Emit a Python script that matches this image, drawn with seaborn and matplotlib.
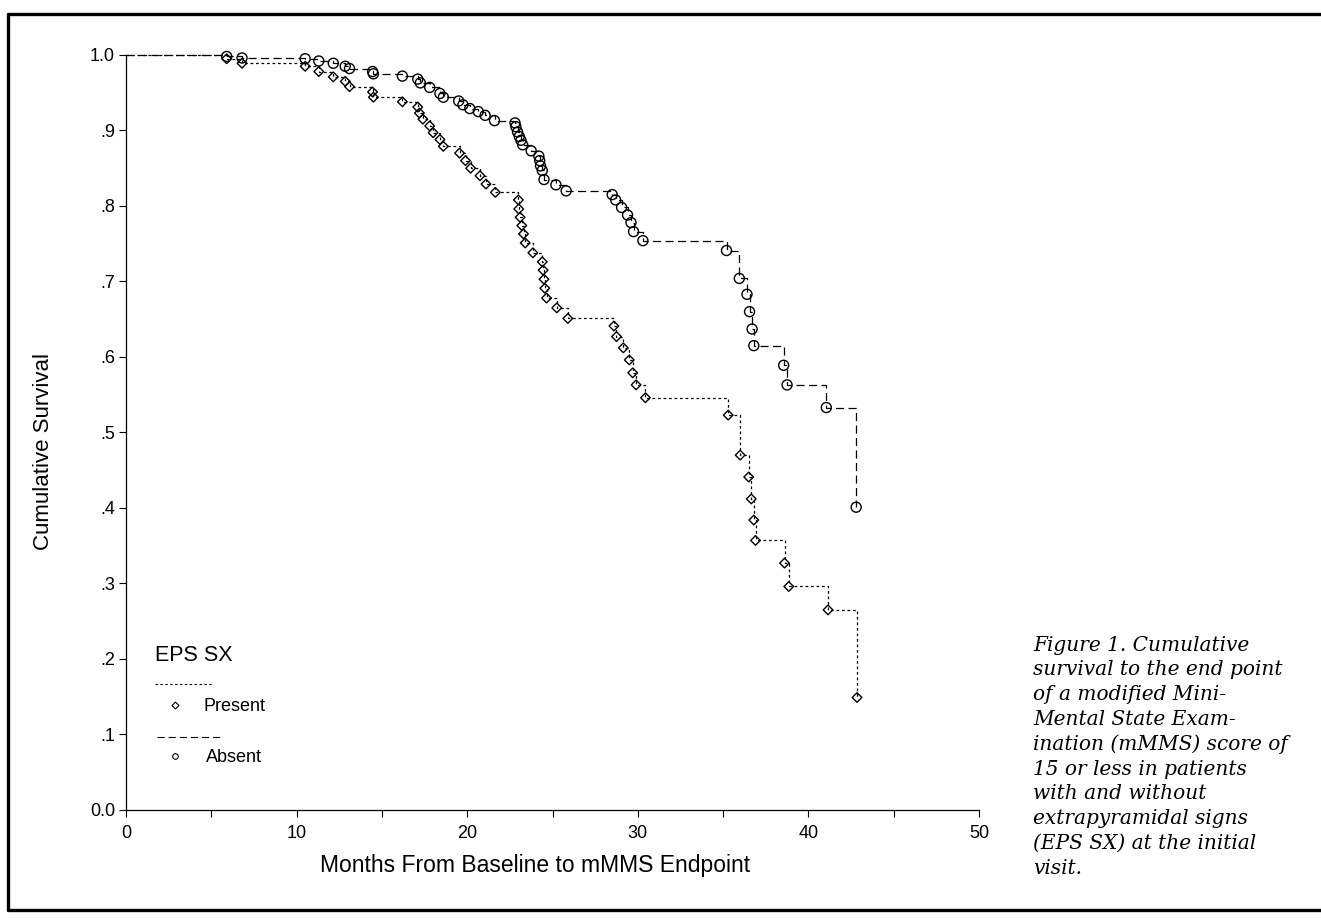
import matplotlib
matplotlib.use("Agg")
import matplotlib.pyplot as plt
from matplotlib.lines import Line2D
import numpy as np
import pandas as pd
import seaborn as sns

# ---------------- data ----------------
present_months = [5.9, 6.8, 10.5, 11.3, 12.15, 12.85, 13.1, 14.45, 14.5, 16.2,
                  17.1, 17.2, 17.4, 17.8, 18.0, 18.4, 18.6, 19.55, 19.9, 20.2,
                  20.75, 21.1, 21.65, 23.0, 23.02, 23.1, 23.2, 23.3, 23.4, 23.85,
                  24.4, 24.45, 24.5, 24.55, 24.65, 25.25, 25.9, 28.6, 28.75, 29.15,
                  29.5, 29.7, 29.9, 30.45, 35.3, 36.0, 36.5, 36.65, 36.8, 36.9,
                  38.6, 38.85, 41.15, 42.85]
present_surv = [0.995, 0.989, 0.985, 0.978, 0.971, 0.965, 0.958, 0.951, 0.944, 0.938,
                0.931, 0.923, 0.915, 0.906, 0.897, 0.888, 0.879, 0.870, 0.860, 0.850,
                0.840, 0.829, 0.818, 0.808, 0.796, 0.785, 0.774, 0.763, 0.751, 0.738,
                0.726, 0.715, 0.703, 0.691, 0.678, 0.665, 0.651, 0.641, 0.627, 0.612,
                0.596, 0.579, 0.563, 0.546, 0.523, 0.470, 0.441, 0.412, 0.384, 0.357,
                0.327, 0.296, 0.265, 0.149]

absent_months = [5.9, 6.8, 10.5, 11.3, 12.15, 12.85, 13.1, 14.45, 14.5, 16.2,
                 17.1, 17.25, 17.8, 18.4, 18.6, 19.5, 19.75, 20.15, 20.65, 21.05,
                 21.6, 22.8, 22.85, 22.95, 23.05, 23.15, 23.25, 23.75, 24.2, 24.25,
                 24.3, 24.4, 24.5, 25.2, 25.8, 28.5, 28.7, 29.05, 29.4, 29.6,
                 29.75, 30.3, 35.2, 35.95, 36.4, 36.55, 36.7, 36.8, 38.55, 38.75,
                 41.05, 42.8]
absent_surv = [0.998, 0.996, 0.995, 0.992, 0.989, 0.985, 0.982, 0.978, 0.975, 0.972,
               0.968, 0.963, 0.957, 0.949, 0.944, 0.939, 0.934, 0.929, 0.925, 0.920,
               0.913, 0.910, 0.905, 0.898, 0.892, 0.887, 0.881, 0.873, 0.866, 0.860,
               0.853, 0.847, 0.835, 0.828, 0.820, 0.815, 0.808, 0.798, 0.788, 0.778,
               0.766, 0.754, 0.741, 0.704, 0.683, 0.660, 0.637, 0.615, 0.589, 0.563,
               0.533, 0.401]

groups = ["Present", "Absent"]
y_ticks = [0.0, 0.1, 0.2, 0.3, 0.4, 0.5, 0.6, 0.7, 0.8, 0.9, 1.0]
y_tick_labels = ["0.0", ".1", ".2", ".3", ".4", ".5", ".6", ".7", ".8", ".9", "1.0"]
x_ticks = [0, 10, 20, 30, 40, 50]
x_minor = [5, 15, 25, 35, 45]
x_label = "Months From Baseline to mMMS Endpoint"
y_label = "Cumulative Survival"
legend_title = "EPS SX"
caption_lines = ["Figure 1. Cumulative",
                 "survival to the end point",
                 "of a modified Mini-",
                 "Mental State Exam-",
                 "ination (mMMS) score of",
                 "15 or less in patients",
                 "with and without",
                 "extrapyramidal signs",
                 "(EPS SX) at the initial",
                 "visit."]

# ---------------- tables ----------------
events = pd.concat([
    pd.DataFrame({"month": present_months, "surv": present_surv, "group": "Present"}),
    pd.DataFrame({"month": absent_months, "surv": absent_surv, "group": "Absent"}),
], ignore_index=True)
curves = pd.concat([
    pd.DataFrame({"month": [0.0] + present_months, "surv": [1.0] + present_surv, "group": "Present"}),
    pd.DataFrame({"month": [0.0] + absent_months, "surv": [1.0] + absent_surv, "group": "Absent"}),
], ignore_index=True)

# ---------------- styling ----------------
sns.set_theme(style="ticks")
plt.rcParams["font.family"] = ["Liberation Sans", "DejaVu Sans"]
plt.rcParams["text.color"] = "black"
plt.rcParams["axes.labelcolor"] = "black"

line_dashes = {"Present": (2.2, 2.2), "Absent": (6.5, 3.5)}
marker_kind = {"Present": "D", "Absent": "o"}
marker_size = {"Present": 24, "Absent": 52}

fig = plt.figure(figsize=(13.21, 9.22), dpi=100)
fig.patch.set_facecolor("white")
ax = fig.add_axes([0.0954, 0.1215, 0.6457, 0.8189])

for g in groups:
    sub = curves[curves["group"] == g]
    sns.lineplot(data=sub, x="month", y="surv", ax=ax, color="black",
                 estimator=None, sort=False, drawstyle="steps-post",
                 linewidth=0.9, dashes=False, legend=False, clip_on=False)
    ax.lines[-1].set_dashes(line_dashes[g])
for g in groups:
    sub = events[events["group"] == g]
    sns.scatterplot(data=sub, x="month", y="surv", ax=ax, marker=marker_kind[g],
                    s=marker_size[g], facecolor="none", edgecolor="black",
                    linewidth=1.0, legend=False, clip_on=False, zorder=3)

ax.set_xlim(0, 50)
ax.set_ylim(0, 1.0)
ax.set_xticks(x_ticks)
ax.set_xticks(x_minor, minor=True)
ax.set_xticklabels([str(v) for v in x_ticks], fontsize=13)
ax.set_yticks(y_ticks)
ax.set_yticklabels(y_tick_labels, fontsize=13)
ax.tick_params(axis="both", which="major", direction="out", length=5, width=0.8,
               color="black", labelcolor="black", pad=3)
ax.tick_params(axis="x", which="major", pad=6)
ax.tick_params(axis="x", which="minor", direction="out", length=5, width=0.8, color="black")
sns.despine(ax=ax)
for s in ["left", "bottom"]:
    ax.spines[s].set_linewidth(0.9)
    ax.spines[s].set_color("black")

ax.set_xlabel(x_label, fontsize=16.5, color="black", va="center")
ax.xaxis.set_label_coords(0.48, -0.074)
ax.set_ylabel(y_label, fontsize=16, color="black", va="center")
ax.yaxis.set_label_coords(-0.097, 0.475)

# ---------------- custom legend ----------------
tr = ax.transAxes
ax.text(0.034, 0.205, legend_title, transform=tr, fontsize=15.5, va="center", ha="left",
        color="black")
ax.add_line(Line2D([0.034, 0.102], [0.167, 0.167], transform=tr, color="black",
                   linewidth=0.8, dashes=line_dashes["Present"]))
ax.add_line(Line2D([0.058], [0.139], transform=tr, marker="D", markersize=3.5,
                   markerfacecolor="none", markeredgecolor="black", markeredgewidth=0.8))
ax.text(0.091, 0.137, "Present", transform=tr, fontsize=13, va="center", ha="left",
        color="black")
ax.add_line(Line2D([0.036, 0.110], [0.097, 0.097], transform=tr, color="black",
                   linewidth=0.8, dashes=line_dashes["Absent"]))
ax.add_line(Line2D([0.058], [0.071], transform=tr, marker="o", markersize=4,
                   markerfacecolor="none", markeredgecolor="black", markeredgewidth=0.8))
ax.text(0.094, 0.069, "Absent", transform=tr, fontsize=13, va="center", ha="left",
        color="black")

# ---------------- caption ----------------
y0 = 1 - 645 / 922
pitch = 24.8 / 922
for i, line in enumerate(caption_lines):
    fig.text(1033 / 1321, y0 - i * pitch, line, fontsize=14.5, style="italic",
             family=["DejaVu Serif"], va="center", ha="left", color="black")

# ---------------- outer frame ----------------
ft = fig.transFigure
fx0, fy_top, fy_bot = 8 / 1321, 1 - 14 / 922, 1 - 910 / 922
fig.add_artist(Line2D([fx0, 1.0], [fy_top, fy_top], transform=ft, color="black", linewidth=2.4))
fig.add_artist(Line2D([fx0, 1.0], [fy_bot, fy_bot], transform=ft, color="black", linewidth=2.4))
fig.add_artist(Line2D([fx0, fx0], [fy_bot, fy_top], transform=ft, color="black", linewidth=2.4))

fig.savefig("out.png", dpi=100, facecolor="white")
